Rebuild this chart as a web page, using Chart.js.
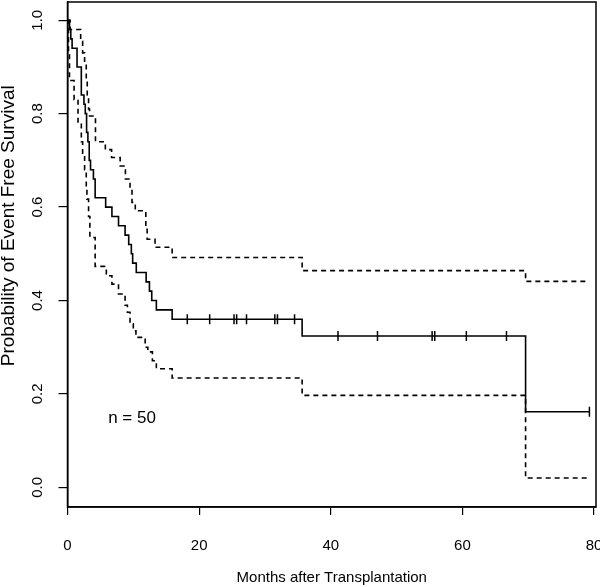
<!DOCTYPE html>
<html>
<head>
<meta charset="utf-8">
<script src="https://cdn.jsdelivr.net/npm/chart.js@4.4.0/dist/chart.umd.min.js"></script>
<style>
    html, body { margin: 0; padding: 0; background: #fff; }
    #wrap { width: 600px; height: 587px; }
</style>
</head>
<body>
<div id="wrap"><canvas id="kmChart"></canvas></div>
<script>
// Kaplan-Meier estimate: month of each step and the value after it
const survTimes  = [0, 0.3, 0.5, 0.7, 1.45, 2.1, 2.5, 2.7, 2.9, 3.1, 3.3, 3.5, 3.94, 4.2, 5.8, 6.75, 7.75, 8.75, 9.3, 9.7, 9.9, 10.45, 11.95, 12.45, 12.8, 13.5, 15.9, 35.65, 69.6, 79.3];
const survValues = [1.0, 0.98, 0.96, 0.94, 0.90, 0.84, 0.82, 0.80, 0.76, 0.74, 0.70, 0.68, 0.66, 0.62, 0.60, 0.58, 0.56, 0.54, 0.52, 0.50, 0.48, 0.46, 0.44, 0.42, 0.40, 0.38, 0.36, 0.324, 0.162, 0.162];

// upper / lower confidence limits
const upperTimes  = [0, 0.4, 2.0, 2.3, 2.6, 2.85, 3.0, 3.2, 3.35, 4.25, 5.75, 6.7, 8.0, 8.8, 9.5, 9.8, 10.3, 11.9, 12.1, 13.3, 15.9, 35.65, 69.6, 79.3];
const upperValues = [1.0, 0.98, 0.955, 0.93, 0.91, 0.87, 0.84, 0.81, 0.795, 0.74, 0.723, 0.706, 0.688, 0.66, 0.64, 0.61, 0.592, 0.555, 0.531, 0.514, 0.492, 0.464, 0.441, 0.441];
const lowerTimes  = [0, 0.15, 0.3, 1.0, 1.6, 2.1, 2.3, 2.6, 2.85, 2.95, 3.2, 3.4, 4.2, 5.9, 6.75, 7.75, 8.75, 9.1, 9.5, 10.0, 10.4, 11.8, 12.2, 12.9, 13.5, 15.9, 35.65, 69.6, 79.1];
const lowerValues = [1.0, 0.93, 0.871, 0.83, 0.78, 0.74, 0.71, 0.68, 0.64, 0.617, 0.58, 0.535, 0.473, 0.453, 0.435, 0.414, 0.39, 0.375, 0.35, 0.335, 0.321, 0.30, 0.29, 0.271, 0.254, 0.234, 0.197, 0.020, 0.020];

// censored observations (months)
const censorTimes = [18.2, 21.6, 25.3, 25.7, 27.2, 31.5, 31.9, 34.5, 41.1, 47.1, 55.4, 55.8, 60.6, 66.7, 79.3];

const xTicks = [0, 20, 40, 60, 80];
const yTicks = [0, 0.2, 0.4, 0.6, 0.8, 1.0];
const xTitle = 'Months after Transplantation';
const yTitle = 'Probability of Event Free Survival';
const nLabel = 'n = 50';
const nLabelAt = { x: 9.8, y: 0.147 };

const FONT = "'Liberation Sans', Arial, sans-serif";

function toPoints(xs, ys) {
    return xs.map((x, i) => ({ x: x, y: ys[i] }));
}

// value of the step curve at time t
function survAt(t) {
    let v = survValues[0];
    survTimes.forEach((st, i) => { if (st <= t) v = survValues[i]; });
    return v;
}

// keep the plot box where the reference has it: no extra room for edge labels
function noScalePadding(s) {
    s.paddingLeft = 0;
    s.paddingRight = 0;
    s.paddingTop = 0;
    s.paddingBottom = 0;
}

const boxPlugin = {
    id: 'box',
    afterDatasetsDraw(chart) {
        const { ctx, chartArea: a, scales } = chart;
        ctx.save();
        ctx.strokeStyle = '#000';
        ctx.lineWidth = 1.5;
        ctx.strokeRect(a.left, a.top, a.right - a.left, a.bottom - a.top);
        ctx.fillStyle = '#000';
        ctx.font = '17px ' + FONT;
        ctx.textAlign = 'center';
        ctx.textBaseline = 'middle';
        ctx.fillText(nLabel, scales.x.getPixelForValue(nLabelAt.x), scales.y.getPixelForValue(nLabelAt.y));

        // y axis title sits a bit above the axis middle in the reference
        ctx.translate(9, scales.y.getPixelForValue(0.56));
        ctx.rotate(-Math.PI / 2);
        ctx.font = '19px ' + FONT;
        ctx.fillText(yTitle, 0, 0);
        ctx.restore();
    }
};

const stepLine = (data, dash) => ({
    type: 'line',
    data: data,
    stepped: true,
    borderColor: '#000',
    borderWidth: 1.6,
    borderDash: dash,
    pointRadius: 0,
    fill: false
});

new Chart(document.getElementById('kmChart'), {
    data: {
        datasets: [
            stepLine(toPoints(survTimes, survValues), []),
            stepLine(toPoints(upperTimes, upperValues), [5, 4]),
            stepLine(toPoints(lowerTimes, lowerValues), [5, 4]),
            {
                type: 'scatter',
                data: censorTimes.map(t => ({ x: t, y: survAt(t) })),
                pointStyle: 'line',
                pointRotation: 90,
                pointRadius: 5,
                pointBorderColor: '#000',
                pointBorderWidth: 1.5
            }
        ]
    },
    options: {
        responsive: true,
        maintainAspectRatio: false,
        animation: false,
        layout: { autoPadding: false, padding: { left: 0, top: 2, right: 4, bottom: 0 } },
        plugins: {
            legend: { display: false },
            tooltip: { enabled: false }
        },
        scales: {
            x: {
                type: 'linear',
                min: 0,
                max: 80.3,
                afterBuildTicks: s => { s.ticks = xTicks.map(v => ({ value: v })); },
                afterFit: s => { s.height = 80; noScalePadding(s); },
                grid: { drawOnChartArea: false, drawTicks: true, tickLength: 8, color: '#000', lineWidth: 1.2 },
                border: { display: true, color: '#000', width: 1.5 },
                ticks: { color: '#000', font: { family: FONT, size: 15 }, padding: 22, maxRotation: 0 },
                title: { display: true, text: xTitle, color: '#000', font: { family: FONT, size: 15 }, padding: 0 }
            },
            y: {
                type: 'linear',
                min: -0.042,
                max: 1.039,
                afterBuildTicks: s => { s.ticks = yTicks.map(v => ({ value: v })); },
                afterFit: s => { s.width = 67.5; noScalePadding(s); },
                grid: { drawOnChartArea: false, drawTicks: true, tickLength: 9, color: '#000', lineWidth: 1.2 },
                border: { display: true, color: '#000', width: 1.5 },
                ticks: {
                    color: '#000',
                    font: { family: FONT, size: 15 },
                    padding: 10,
                    minRotation: 90,
                    maxRotation: 90,
                    crossAlign: 'center',
                    callback: v => v.toFixed(1)
                },
                title: { display: false }
            }
        }
    },
    plugins: [boxPlugin]
});
</script>
</body>
</html>
